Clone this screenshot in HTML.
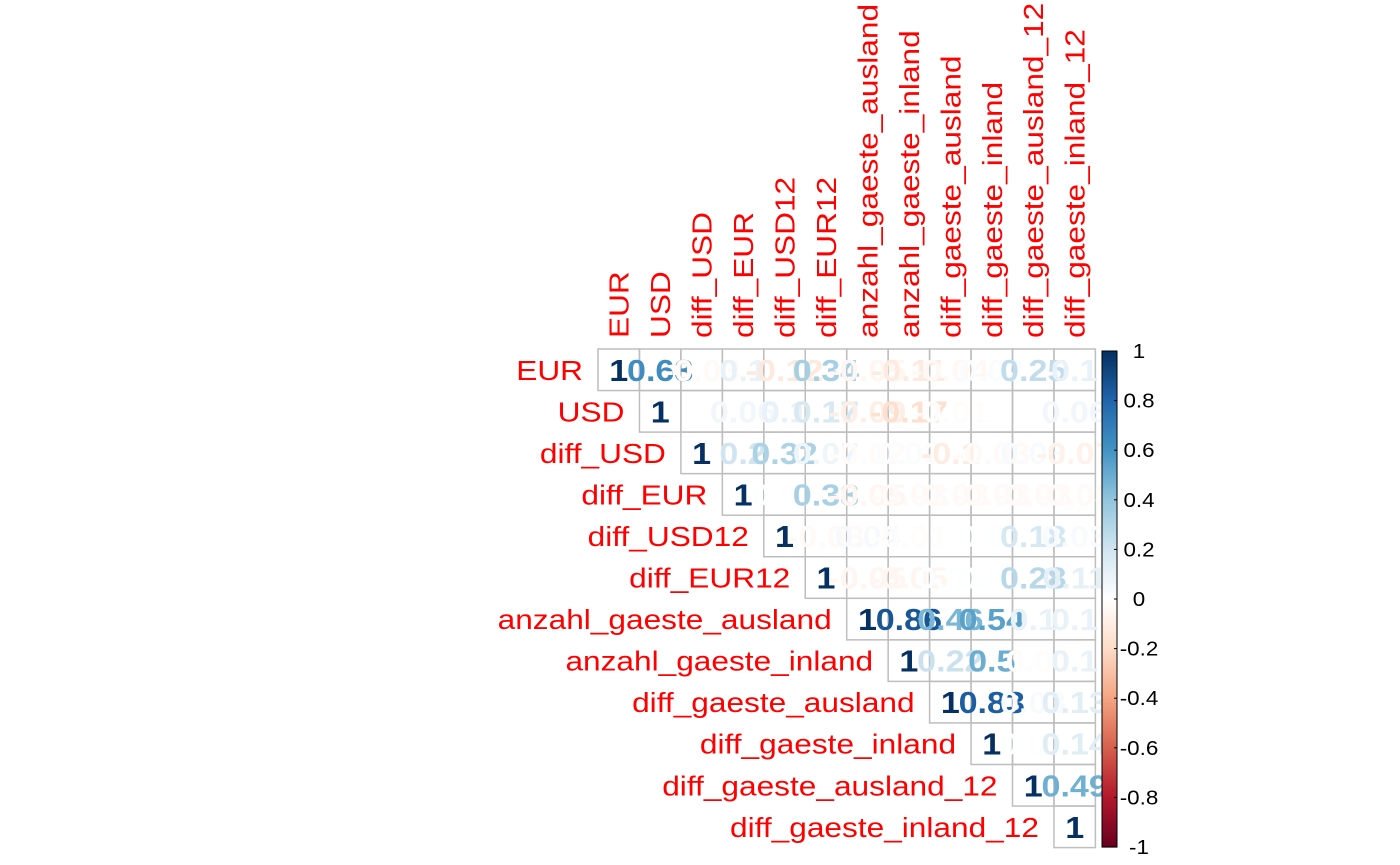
<!DOCTYPE html>
<html><head><meta charset="utf-8"><style>
html,body{margin:0;padding:0;background:#fff;}
svg{display:block;font-family:"Liberation Sans",Arial,sans-serif;}
</style></head><body>
<svg id="chart" width="1400" height="865"></svg>
<script>
const labels = ["EUR","USD","diff_USD","diff_EUR","diff_USD12","diff_EUR12","anzahl_gaeste_ausland","anzahl_gaeste_inland","diff_gaeste_ausland","diff_gaeste_inland","diff_gaeste_ausland_12","diff_gaeste_inland_12"];
const row0 = [1,0.63,-0.03,0.1,-0.12,0.34,-0.05,-0.11,-0.04,0.02,0.25,0.1];
const row1 = [1,0.00,0.06,0.1,0.17,-0.09,-0.17,-0.01,0.0,0.00,0.06];
const row2 = [1,0.2,0.32,0.07,-0.02,0.02,-0.1,-0.03,0.03,-0.07];
const row3 = [1,0.01,0.33,-0.05,-0.03,-0.03,-0.03,-0.03,-0.03];
const row4 = [1,-0.03,0.04,-0.01,0.00,0.01,0.18,0.03];
const row5 = [1,-0.05,-0.05,0.01,0.01,0.28,0.11];
const row6 = [1,0.86,0.46,0.54,0.1,0.1];
const row7 = [1,0.22,0.5,-0.01,0.1];
const row8 = [1,0.83,0.03,0.13];
const row9 = [1,0.01,0.14];
const row10 = [1,0.49];
const row11 = [1];
const rows = [row0,row1,row2,row3,row4,row5,row6,row7,row8,row9,row10,row11];
const barTicks = [1,0.8,0.6,0.4,0.2,0,-0.2,-0.4,-0.6,-0.8,-1];

const NS="http://www.w3.org/2000/svg";
const svg=document.getElementById('chart');
const X0=598,Y0=349,CW=41.45,CH=41.55;
const SX=1.13;
const pal=["#67001F","#B2182B","#D6604D","#F4A582","#FDDBC7","#FFFFFF","#D1E5F0","#92C5DE","#4393C3","#2166AC","#053061"];
function hex(h){return [1,3,5].map(i=>parseInt(h.substr(i,2),16));}
function col(v){const t=(v+1)/2*(pal.length-1);const i=Math.min(pal.length-2,Math.floor(t));const f=t-i;
 const a=hex(pal[i]),b=hex(pal[i+1]);return "rgb("+a.map((x,k)=>Math.round(x+(b[k]-x)*f)).join(",")+")";}
function el(t,a){const e=document.createElementNS(NS,t);for(const k in a)e.setAttribute(k,a[k]);svg.appendChild(e);return e;}
function fmt(v){let s=(Math.round(v*100)/100).toFixed(2);s=s.replace(/0+$/,'').replace(/\.$/,'');if(s==="-0")s="0";return s;}
const xc=j=>X0+j*CW, yc=i=>Y0+i*CH;

rows.forEach((r,i)=>{r.forEach((v,k)=>{const j=i+k;
 const g=el('rect',{x:xc(j),y:yc(i),width:CW,height:CH,fill:'none',stroke:'#BEBEBE','stroke-width':1.5});
 
 
});});
rows.forEach((r,i)=>{r.forEach((v,k)=>{const j=i+k;
 const x=xc(j)+CW/2,y=yc(i)+CH/2+11;
 const t=el('text',{x:0,y:0,transform:'translate('+x+' '+y+') scale(1.1 1)','text-anchor':'middle','font-size':31,'font-weight':'bold',fill:col(v)});
 t.textContent=fmt(v);
 
 
});});
labels.forEach((l,i)=>{
 const x=xc(i)-15,y=yc(i)+CH/2+10;
 const t=el('text',{x:0,y:0,transform:'translate('+x+' '+y+') scale('+SX+' 1)','text-anchor':'end','font-size':28,fill:'#FF0000'});
 t.textContent=l;
 
 
});
labels.forEach((l,j)=>{
 const x=xc(j)+CW/2+10,y=Y0-11;
 const t=el('text',{x:0,y:0,'font-size':28,fill:'#FF0000',transform:'translate('+x+' '+y+') rotate(-90) scale('+SX+' 1)'});
 t.textContent=l;
 
 
});
const BX=1102,BW=15,BT=351,BB=847;
const by=v=>BT+(1-v)/2*(BB-BT);
for(let k=0;k<200;k++){const v0=1-k/100,v1=1-(k+1)/100;
 const r=el('rect',{x:BX,y:by(v0),width:BW,height:by(v1)-by(v0)+0.6,fill:col((v0+v1)/2)});
 
 
}
const fr=el('rect',{x:BX,y:BT,width:BW,height:BB-BT,fill:'none',stroke:'#000','stroke-width':1});


barTicks.forEach(v=>{
 const ln=el('line',{x1:BX+BW-3,x2:BX+BW,y1:by(v),y2:by(v),stroke:'#000'});
 
 
 const x=1139,y=by(v)+7;
 const t=el('text',{x:0,y:0,transform:'translate('+x+' '+y+') scale(1.12 1)','text-anchor':'middle','font-size':20,fill:'#000'});
 t.textContent=String(v);
 
 
});
</script>
</body></html>
